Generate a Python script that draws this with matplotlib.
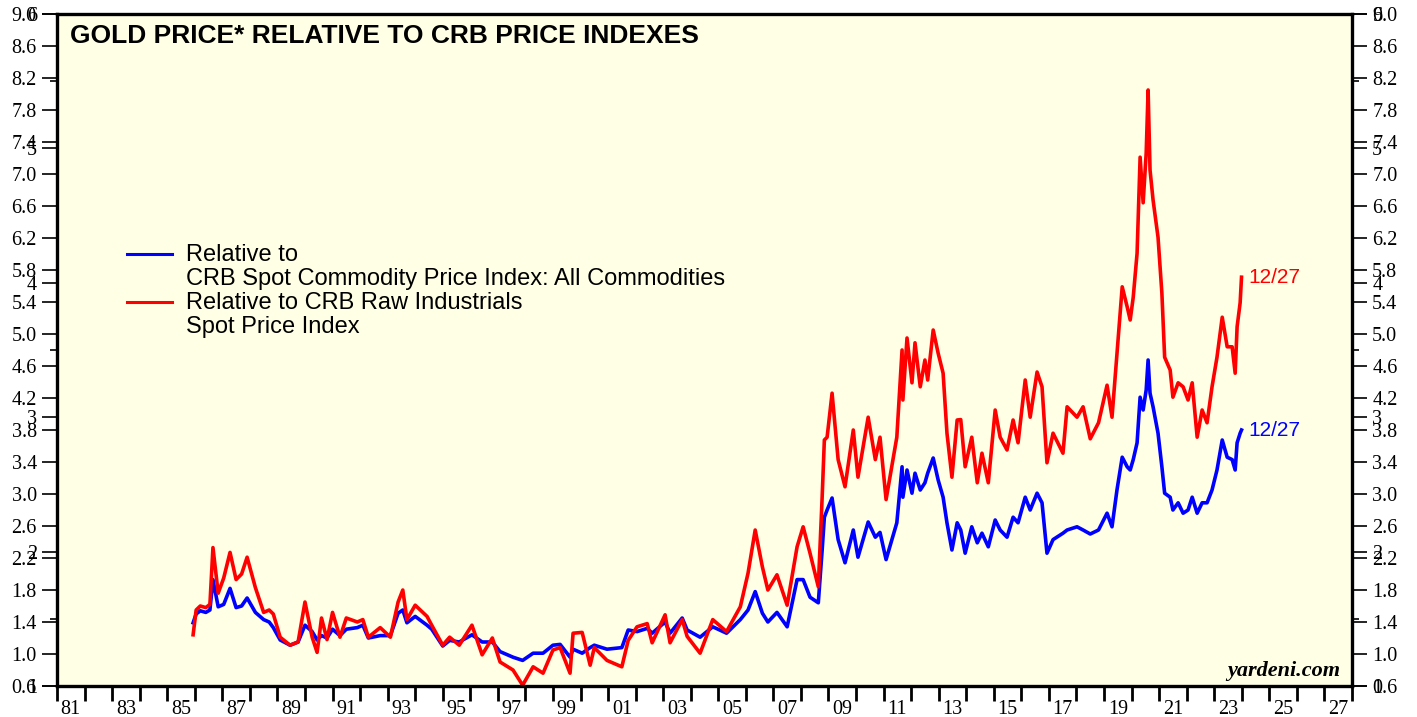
import numpy as np
import matplotlib.pyplot as plt

# Datos (anio decimal, relacion oro / CRB)
fechas = [
    1985.94, 1986.05, 1986.2, 1986.4, 1986.55, 1986.66, 1986.85, 1987.05, 1987.28, 1987.5,
    1987.7, 1987.9, 1988.2, 1988.5, 1988.7, 1988.85, 1989.1, 1989.46, 1989.75, 1990.0,
    1990.26, 1990.44, 1990.6, 1990.8, 1991.0, 1991.27, 1991.5, 1991.9, 1992.1, 1992.3,
    1992.73, 1993.1, 1993.38, 1993.55, 1993.7, 1994.0, 1994.43, 1994.6, 1995.0, 1995.25,
    1995.6, 1996.06, 1996.43, 1996.8, 1997.08, 1997.55, 1997.9, 1998.28, 1998.64, 1999.0,
    1999.26, 1999.62, 1999.73, 2000.06, 2000.35, 2000.5, 2000.96, 2001.5, 2001.73, 2002.05,
    2002.42, 2002.6, 2003.07, 2003.25, 2003.69, 2003.87, 2004.34, 2004.8, 2005.3, 2005.8,
    2006.08, 2006.34, 2006.6, 2006.8, 2007.13, 2007.5, 2007.86, 2008.08, 2008.33, 2008.63,
    2008.77, 2008.85, 2008.95, 2009.13, 2009.35, 2009.6, 2009.9, 2010.07, 2010.44, 2010.7,
    2010.87, 2011.09, 2011.48, 2011.67, 2011.7, 2011.85, 2012.03, 2012.14, 2012.33, 2012.5,
    2012.6, 2012.8, 2012.98, 2013.16, 2013.3, 2013.48, 2013.67, 2013.8, 2013.96, 2014.2,
    2014.4, 2014.57, 2014.8, 2015.05, 2015.23, 2015.48, 2015.7, 2015.88, 2016.14, 2016.32,
    2016.57, 2016.75, 2016.93, 2017.15, 2017.51, 2017.66, 2018.02, 2018.24, 2018.5, 2018.8,
    2019.11, 2019.29, 2019.47, 2019.66, 2019.84, 2019.95, 2020.06, 2020.2, 2020.31, 2020.42,
    2020.53, 2020.6, 2020.67, 2020.78, 2020.96, 2021.1, 2021.2, 2021.4, 2021.5, 2021.69,
    2021.87, 2022.05, 2022.2, 2022.38, 2022.56, 2022.74, 2022.92, 2023.1, 2023.29, 2023.47,
    2023.65, 2023.76, 2023.83, 2023.94, 2023.99,
]

# Relativo a CRB Raw Industrials (rojo)
rel_industriales = [
    1.24, 1.55, 1.60, 1.58, 1.62, 2.33, 1.76, 1.95, 2.27, 1.93,
    2.00, 2.21, 1.83, 1.52, 1.55, 1.50, 1.21, 1.11, 1.15, 1.65,
    1.21, 1.02, 1.45, 1.18, 1.52, 1.21, 1.45, 1.40, 1.43, 1.21,
    1.33, 1.21, 1.65, 1.80, 1.43, 1.61, 1.47, 1.36, 1.11, 1.21,
    1.11, 1.36, 0.99, 1.20, 0.90, 0.80, 0.61, 0.84, 0.76, 1.05,
    1.08, 0.76, 1.26, 1.27, 0.86, 1.08, 0.92, 0.84, 1.17, 1.34,
    1.38, 1.14, 1.49, 1.14, 1.43, 1.22, 1.01, 1.43, 1.28, 1.59,
    2.01, 2.55, 2.09, 1.80, 1.99, 1.61, 2.34, 2.59, 2.26, 1.84,
    2.96, 3.675, 3.71, 4.26, 3.43, 3.09, 3.80, 3.21, 3.96, 3.43,
    3.71, 2.93, 3.71, 4.80, 4.175, 4.95, 4.39, 4.89, 4.34, 4.675,
    4.425, 5.05, 4.76, 4.51, 3.76, 3.21, 3.925, 3.93, 3.34, 3.71,
    3.14, 3.51, 3.14, 4.05, 3.71, 3.55, 3.925, 3.64, 4.425, 3.96,
    4.525, 4.34, 3.39, 3.76, 3.51, 4.09, 3.96, 4.09, 3.69, 3.89,
    4.36, 3.96, 4.76, 5.59, 5.34, 5.175, 5.46, 6.01, 7.21, 6.64,
    7.26, 8.05, 7.05, 6.675, 6.21, 5.51, 4.71, 4.55, 4.21, 4.39,
    4.34, 4.175, 4.39, 3.71, 4.05, 3.89, 4.34, 4.71, 5.21, 4.84,
    4.84, 4.51, 5.09, 5.39, 5.71,
]

# Relativo a CRB Spot Commodity: All Commodities (azul)
rel_todas = [
    1.39, 1.50, 1.54, 1.52, 1.55, 1.93, 1.59, 1.62, 1.82, 1.58,
    1.60, 1.70, 1.52, 1.43, 1.40, 1.33, 1.175, 1.11, 1.15, 1.36,
    1.28, 1.175, 1.23, 1.20, 1.31, 1.23, 1.31, 1.33, 1.36, 1.20,
    1.23, 1.23, 1.51, 1.55, 1.39, 1.47, 1.36, 1.31, 1.10, 1.17,
    1.15, 1.24, 1.15, 1.15, 1.03, 0.96, 0.92, 1.01, 1.01, 1.11,
    1.12, 0.96, 1.06, 1.01, 1.08, 1.11, 1.06, 1.08, 1.30, 1.28,
    1.32, 1.26, 1.40, 1.26, 1.45, 1.30, 1.21, 1.34, 1.26, 1.43,
    1.55, 1.78, 1.51, 1.40, 1.52, 1.34, 1.93, 1.93, 1.71, 1.64,
    2.30, 2.71, 2.80, 2.95, 2.43, 2.14, 2.55, 2.21, 2.65, 2.46,
    2.52, 2.18, 2.64, 3.34, 2.96, 3.30, 3.01, 3.26, 3.05, 3.14,
    3.26, 3.45, 3.175, 2.96, 2.64, 2.30, 2.64, 2.55, 2.26, 2.59,
    2.39, 2.51, 2.34, 2.675, 2.55, 2.46, 2.71, 2.64, 2.96, 2.80,
    3.01, 2.89, 2.26, 2.43, 2.51, 2.55, 2.59, 2.55, 2.50, 2.55,
    2.76, 2.59, 3.05, 3.46, 3.34, 3.30, 3.43, 3.64, 4.21, 4.05,
    4.30, 4.675, 4.26, 4.09, 3.76, 3.34, 3.01, 2.96, 2.80, 2.89,
    2.76, 2.80, 2.96, 2.76, 2.89, 2.89, 3.05, 3.30, 3.675, 3.46,
    3.43, 3.30, 3.64, 3.76, 3.80,
]

anios = list(range(1981, 2029))
anios_etiqueta = list(range(1981, 2028, 2))
ticks_izq = np.round(np.arange(0.6, 9.01, 0.4), 1)
ticks_sec = [1, 2, 3, 4, 5, 6]
ticks_sec_menor = [1.5, 3.5, 5.5]

AZUL = '#0000FF'
ROJO = '#FF0000'
FONDO = '#FFFFE6'
SERIF = 'Liberation Serif'
SANS = 'Liberation Sans'

fig = plt.figure(figsize=(14.17, 7.17), dpi=100)
ax = fig.add_axes([57 / 1417, 31 / 717, 1295 / 1417, 672 / 717])
ax.set_facecolor(FONDO)

ax.plot(fechas, rel_todas, color=AZUL, lw=2.6, solid_joinstyle='round')
ax.plot(fechas, rel_industriales, color=ROJO, lw=2.6, solid_joinstyle='round')

ax.set_xlim(1981, 2028)
ax.set_ylim(0.6, 9.0)

# eje secundario (1 a 6) superpuesto, como en el original
ax2 = ax.twinx()
ax2.set_ylim(1, 6)
ax2.set_yticks(ticks_sec)
ax2.set_yticks(ticks_sec_menor, minor=True)
ax2.set_yticklabels([str(t) for t in ticks_sec], fontfamily=SERIF, fontsize=14.5)
ax2.tick_params(axis='y', which='major', direction='out', length=11, width=1.2,
                left=True, right=True, labelleft=True, labelright=True, pad=3.5)
ax2.tick_params(axis='y', which='minor', direction='out', length=5, width=1.2,
                left=True, right=True)
for s in ax2.spines.values():
    s.set_visible(False)

# eje principal
ax.set_yticks(ticks_izq)
ax.set_yticklabels([f'{t:.1f}' for t in ticks_izq], fontfamily=SERIF, fontsize=14.5)
ax.tick_params(axis='y', which='major', direction='out', length=11, width=1.2,
               left=True, right=True, labelleft=True, labelright=True, pad=3.5)

ax.set_xticks(anios)
ax.set_xticklabels([])
ax.set_xticks([a + 0.5 for a in anios_etiqueta], minor=True)
ax.set_xticklabels([f'{a % 100:02d}' for a in anios_etiqueta], minor=True,
                   fontfamily=SERIF, fontsize=14.5)
ax.tick_params(axis='x', which='major', direction='out', length=11, width=2.0)
ax.tick_params(axis='x', which='minor', length=0, pad=10)

for s in ax.spines.values():
    s.set_linewidth(2.4)

# titulo
ax.text(0.010, 0.968, 'GOLD PRICE* RELATIVE TO CRB PRICE INDEXES', transform=ax.transAxes,
        fontfamily=SANS, fontweight='bold', fontsize=19, va='center', ha='left')

# leyenda manual
ax.plot([0.054, 0.089], [0.643, 0.643], color=AZUL, lw=2.2, transform=ax.transAxes)
ax.plot([0.054, 0.089], [0.571, 0.571], color=ROJO, lw=2.2, transform=ax.transAxes)
filas = ['Relative to', 'CRB Spot Commodity Price Index: All Commodities',
         'Relative to CRB Raw Industrials', 'Spot Price Index']
for i, txt in enumerate(filas):
    ax.text(0.0996, 0.641 - i * 0.0357, txt, transform=ax.transAxes, fontfamily=SANS,
            fontsize=17, va='center', ha='left')

# etiquetas del ultimo dato
ax.annotate('12/27', (fechas[-1], rel_industriales[-1]), xytext=(5, 0),
            textcoords='offset points', color=ROJO, fontfamily=SANS, fontsize=15, va='center')
ax.annotate('12/27', (fechas[-1], rel_todas[-1]), xytext=(5, 0),
            textcoords='offset points', color=AZUL, fontfamily=SANS, fontsize=15, va='center')

ax.text(0.991, 0.022, 'yardeni.com', transform=ax.transAxes, fontfamily=SERIF,
        fontweight='bold', fontstyle='italic', fontsize=16, ha='right', va='center')

fig.savefig('out.png', dpi=100, facecolor='white')
